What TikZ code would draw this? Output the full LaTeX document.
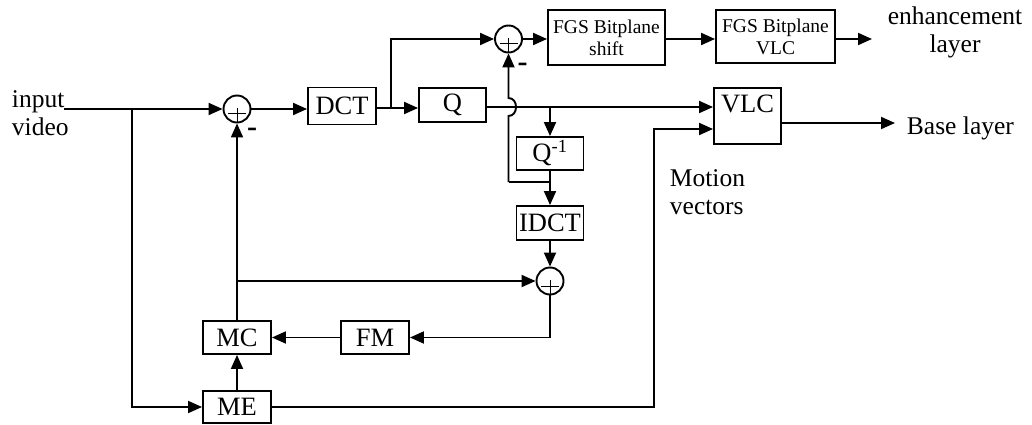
\documentclass[tikz,border=0pt]{standalone}
\usepackage{fontspec}
\setmainfont{Liberation Serif}
\usetikzlibrary{arrows.meta}
\begin{document}
\begin{tikzpicture}[x=1pt,y=-1pt,
  line width=1.9pt,
  arr/.style={-{Triangle[length=14pt,width=12pt]}},
  blk/.style={draw, line width=1.9pt, inner sep=0pt, font=\fontsize{26.5}{28}\selectfont},
  sumc/.style={draw, circle, line width=1.9pt, minimum size=27pt, inner sep=0pt},
  lbl/.style={inner sep=0pt, font=\fontsize{25.5}{27.5}\selectfont},
  fgs/.style={draw, line width=1.9pt, inner sep=0pt, align=center, font=\fontsize{19.5}{22}\selectfont},
  minus/.style={inner sep=0pt, font=\fontsize{30}{30}\selectfont\bfseries},
  plusln/.style={line width=1pt}
]
\useasboundingbox (0,0) rectangle (1032,425);

% blocks
\node[blk, minimum width=68pt, minimum height=37pt] (DCT) at (342,106) {DCT};
\node[blk, minimum width=67pt, minimum height=34pt] (Q) at (452.5,105) {Q};
\node[blk, minimum width=67pt, minimum height=56pt, text height=21pt, text depth=28pt, inner ysep=3.5pt] (VLC) at (747.5,116) {VLC};
\node[blk, minimum width=67pt, minimum height=33pt] (Qi) at (550,153.5) {Q\textsuperscript{-1}};
\node[blk, minimum width=67pt, minimum height=34pt] (IDCT) at (550,223) {IDCT};
\node[blk, minimum width=68pt, minimum height=33pt] (FM) at (375,337.5) {FM};
\node[blk, minimum width=68pt, minimum height=33pt] (MC) at (237,337.5) {MC};
\node[blk, minimum width=68pt, minimum height=32pt] (ME) at (237,407) {ME};
\node[fgs, minimum width=117pt, minimum height=55pt] (FS) at (606.5,37.5) {FGS Bitplane\\shift};
\node[fgs, minimum width=119pt, minimum height=53pt] (FV) at (775.5,36.5) {FGS Bitplane\\VLC};

% summing junctions
\node[sumc] (s1) at (237,109) {};
\node[sumc] (s2) at (508.5,39) {};
\node[sumc] (s3) at (550,281) {};
\foreach \s in {s1,s2,s3} {
  \draw[plusln] ([xshift=-9pt,yshift=-5pt]\s.center) -- ([xshift=9pt,yshift=-5pt]\s.center);
  \draw[plusln] ([yshift=1pt]\s.center) -- (\s.south);
}
\node[minus] (m1) at (252,132) {-};
\node[minus] (m2) at (522.5,67) {-};

% labels
\node[lbl, align=left, anchor=north west] (inp) at (11,90) {input\\video};
\node[lbl, align=center, anchor=north] (enh) at (955,6) {enhancement\\layer};
\node[lbl, anchor=base west] (base) at (906,134) {Base layer};
\node[lbl, align=left, anchor=north west] (mv) at (669,169) {Motion\\vectors};

% coordinates
\coordinate (in0) at (64,109);
\coordinate (j1) at (132,109);
\coordinate (j2) at (391,108);
\coordinate (j3) at (550,107);
\coordinate (j4) at (508.5,182);
\coordinate (j5) at (550,182);
\coordinate (hb) at (508.5,116);
\coordinate (ht) at (508.5,98);
\coordinate (j6) at (237,281);
\coordinate (k2) at (654,129);
\coordinate (enA) at (872,39);
\coordinate (blA) at (895,123);

% connectors
\draw[arr] (in0) -- (s1.west);
\draw[arr] (j1) |- (ME.west);
\draw[arr] (s1.east) -- (s1.east -| DCT.west);
\draw (DCT.east |- j2) -- (j2);
\draw[arr] (j2) -- (j2 -| Q.west);
\draw[arr] (j2) |- (s2.west);
\draw[arr] (s2.east) -- (s2.east -| FS.west);
\draw[arr] (FS.east |- s2) -- (FV.west |- s2);
\draw[arr] (FV.east |- s2) -- (enA);
\draw (Q.east |- j3) -- (j3);
\draw[arr] (j3) -- (j3 -| VLC.west);
\draw[arr] (j3) -- (Qi.north);
\draw[arr] (Qi.south) -- (IDCT.north);
\draw (j4) -- (j5);
\draw[arr] (j4) -- (hb) .. controls ([xshift=10pt]hb) and ([xshift=10pt]ht) .. (ht) -- (s2.south);
\draw[arr] (IDCT.south) -- (s3.north);
\draw[arr] (s3.south) |- (FM.east);
\draw[arr] (FM.west) -- (MC.east);
\draw[arr] (MC.north) -- (s1.south);
\draw[arr] (j6) -- (s3.west);
\draw[arr] (ME.north) -- (MC.south);
\draw[arr] (ME.east) -| (k2) -- (k2 -| VLC.west);
\draw[arr] (VLC.east |- blA) -- (blA);
\end{tikzpicture}
\end{document}
